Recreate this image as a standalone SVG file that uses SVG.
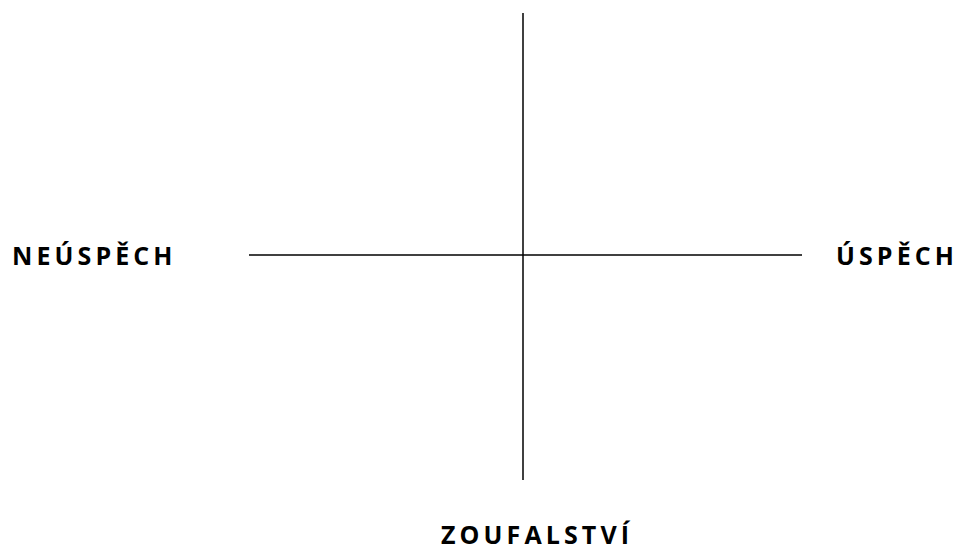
<svg xmlns="http://www.w3.org/2000/svg" width="964" height="546" viewBox="0 0 964 546">
<style>
.lbl{font-family:"Open Sans","Liberation Sans",sans-serif;font-weight:bold;font-size:25px;letter-spacing:4.1px;fill:#000}
.ax{stroke:#000;stroke-width:1.5;fill:none}
</style>
<rect width="964" height="546" fill="#fff"/>
<g id="connectors">
<line class="ax" x1="523" y1="13" x2="523" y2="480"/>
<line class="ax" x1="249" y1="255" x2="802" y2="255"/>
</g>
<g id="neuspech"><text class="lbl" x="12" y="265">NEÚSPĚCH</text></g>
<g id="uspech"><text class="lbl" x="836" y="265">ÚSPĚCH</text></g>
<g id="zoufalstvi"><text class="lbl" x="441" y="544">ZOUFALSTVÍ</text></g>
</svg>
